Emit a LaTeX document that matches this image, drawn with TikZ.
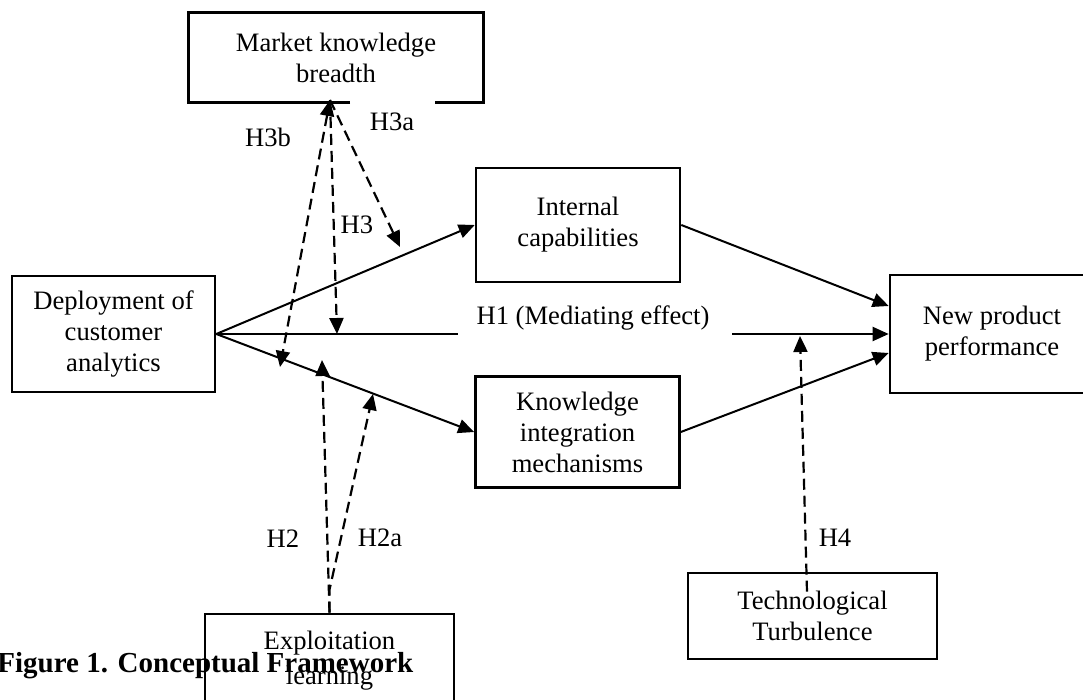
\documentclass[tikz,border=0pt]{standalone}
\usepackage{fontspec}
\setmainfont{Liberation Serif}
\usetikzlibrary{arrows.meta,calc}

\begin{document}
\begin{tikzpicture}[x=0.5pt,y=-0.5pt,
  >={Triangle[length=8pt,width=7pt]},
  every node/.style={font=\fontsize{13.3}{15.5}\selectfont, align=center, inner sep=0pt},
  box/.style={draw, line width=1.3pt, minimum width=102pt, minimum height=57pt},
  link/.style={line width=1pt, ->},
  moder/.style={line width=1.1pt, ->, dash pattern=on 5.5pt off 3pt}]
\useasboundingbox (0,0) rectangle (1083,700);
% boxes
\node[box, draw=none, minimum width=146pt, minimum height=43.5pt] (market) at (336,57.5) {Market knowledge\\breadth};
\draw[line width=1.3pt] ($(market.south)+(14,0)$) -- (market.south west) -- (market.north west) -- (market.north east) -- (market.south east) -- ($(market.south)+(99,0)$);
\node[box, minimum width=101.5pt, minimum height=58pt] (deploy) at (113.5,334) {Deployment of\\customer\\analytics};
\node[box] (internal) at (578,225) {Internal\\capabilities};
\node[box, minimum height=55.5pt] (integr) at (577.5,432) {Knowledge\\integration\\mechanisms};
\node[box, minimum height=59pt] (newprod) at (992,334) {New product\\performance};
\node[font=\fontsize{14.5}{16}\selectfont\bfseries, anchor=base west] (caption) at (-3,672) {Figure 1. Conceptual Framework};
\node[box, minimum width=124.5pt, minimum height=47pt] (exploit) at (329.5,661) {Exploitation\\[2pt]learning};
\node[box, minimum width=124.5pt, minimum height=43pt] (tech) at (812.5,616) {Technological\\Turbulence};
% labels
\node (lh1) at (593,318) {H1 (Mediating effect)};
\node (lh3b) at (268,137) {H3b};
\node (lh3a) at (392,122) {H3a};
\node (lh3) at (357,225) {H3};
\node (lh2) at (283,539) {H2};
\node (lh2a) at (380,538) {H2a};
\node (lh4) at (835,538) {H4};
% points on the paths
\coordinate (mtop) at (330,100);
\coordinate (h3bend) at (280,367);
\coordinate (h3end) at (337,334);
\coordinate (h3aend) at (400,247);
\coordinate (h2end) at (322,360);
\coordinate (h2aend) at (373,394);
\coordinate (h4end) at (800,336);
\coordinate (h1gapl) at (458,334);
\coordinate (h1gapr) at (732,334);
% direct effects
\draw[link] (deploy.east) -- (internal.west);
\draw[line width=1pt] (deploy.east) -- (h1gapl);
\draw[link] (h1gapr) -- (newprod.west);
\draw[link] (deploy.east) -- (integr.west);
\draw[link] (internal.east) -- ($(newprod.west)+(0,-28)$);
\draw[link] (integr.east) -- ($(newprod.west)+(0,19)$);
% moderators
\draw[moder, <->] (mtop) -- (h3bend);
\draw[moder] (mtop) -- (h3end);
\draw[moder] (mtop) -- (h3aend);
\draw[moder] (exploit.north) -- (h2end);
\draw[moder] (exploit.north) -- ++(0,-23) -- (h2aend);
\draw[moder] ($(tech.north)+(-5.5,20)$) -- (h4end);
\end{tikzpicture}
\end{document}
